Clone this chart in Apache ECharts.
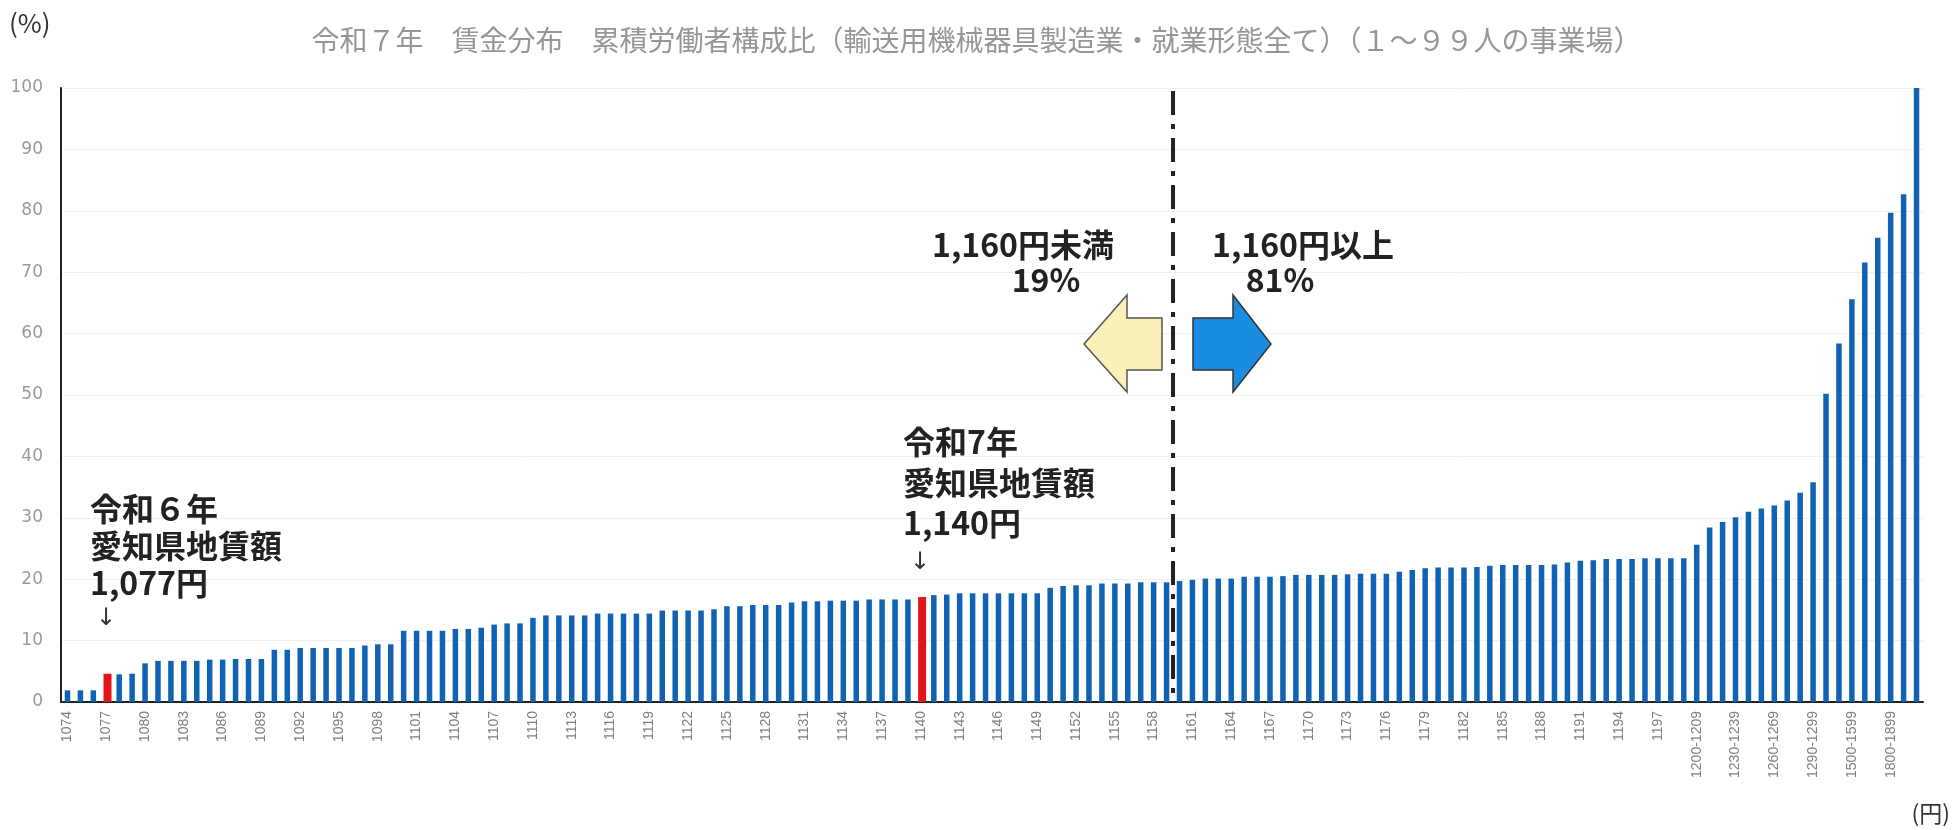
<!DOCTYPE html>
<html>
<head>
<meta charset="utf-8">
<script src="https://cdn.jsdelivr.net/npm/echarts@6/dist/echarts.min.js"></script>
<style>
html,body{margin:0;padding:0;background:#fff;}
#main{width:1953px;height:830px;}
</style>
</head>
<body>
<div id="main"></div>
<script>
// ---- data ----
const titleText = '令和７年　賃金分布　累積労働者構成比（輸送用機械器具製造業・就業形態全て）（１～９９人の事業場）';
const singleYen = [
  '1074','1075','1076','1077','1078','1079','1080','1081','1082','1083',
  '1084','1085','1086','1087','1088','1089','1090','1091','1092','1093',
  '1094','1095','1096','1097','1098','1099','1100','1101','1102','1103',
  '1104','1105','1106','1107','1108','1109','1110','1111','1112','1113',
  '1114','1115','1116','1117','1118','1119','1120','1121','1122','1123',
  '1124','1125','1126','1127','1128','1129','1130','1131','1132','1133',
  '1134','1135','1136','1137','1138','1139','1140','1141','1142','1143',
  '1144','1145','1146','1147','1148','1149','1150','1151','1152','1153',
  '1154','1155','1156','1157','1158','1159','1160','1161','1162','1163',
  '1164','1165','1166','1167','1168','1169','1170','1171','1172','1173',
  '1174','1175','1176','1177','1178','1179','1180','1181','1182','1183',
  '1184','1185','1186','1187','1188','1189','1190','1191','1192','1193',
  '1194','1195','1196','1197','1198','1199'
];
const rangeYen = [
  '1200-1209','1210-1219','1220-1229','1230-1239','1240-1249','1250-1259',
  '1260-1269','1270-1279','1280-1289','1290-1299','1300-1399','1400-1499',
  '1500-1599','1600-1699','1700-1799','1800-1899','1900-1999','2000-'
];
const singleValues = [
  1.9, 1.9, 1.9, 4.6, 4.5, 4.6, 6.3, 6.7, 6.7, 6.7,
  6.7, 6.9, 6.9, 7.0, 7.0, 7.0, 8.5, 8.5, 8.8, 8.8,
  8.8, 8.8, 8.8, 9.2, 9.4, 9.4, 11.6, 11.6, 11.6, 11.6,
  11.9, 11.9, 12.1, 12.6, 12.8, 12.8, 13.7, 14.1, 14.1, 14.1,
  14.1, 14.4, 14.4, 14.4, 14.4, 14.4, 14.9, 14.9, 14.9, 14.9,
  15.1, 15.6, 15.6, 15.8, 15.8, 15.8, 16.2, 16.4, 16.4, 16.5,
  16.5, 16.5, 16.7, 16.7, 16.7, 16.7, 17.1, 17.4, 17.5, 17.7,
  17.7, 17.7, 17.7, 17.7, 17.7, 17.7, 18.6, 18.9, 19.0, 19.0,
  19.3, 19.3, 19.3, 19.5, 19.5, 19.5, 19.7, 19.9, 20.1, 20.1,
  20.1, 20.4, 20.4, 20.4, 20.5, 20.7, 20.7, 20.7, 20.7, 20.8,
  20.9, 20.9, 20.9, 21.2, 21.5, 21.8, 21.9, 21.9, 21.9, 22.0,
  22.2, 22.3, 22.3, 22.3, 22.3, 22.4, 22.7, 23.0, 23.1, 23.3,
  23.3, 23.3, 23.4, 23.4, 23.4, 23.4
];
const rangeValues = [
  25.6, 28.4, 29.3, 30.1, 31.0, 31.5,
  32.0, 32.8, 34.1, 35.8, 50.2, 58.4,
  65.6, 71.6, 75.6, 79.7, 82.7, 100
];
const highlighted = ['1077', '1140'];
const thresholdBefore = '1159';
const thresholdAfter = '1160';
const yTicks = { min: 0, max: 100, interval: 10 };

const categories = singleYen.concat(rangeYen);
const values = singleValues.concat(rangeValues);

const BLUE = '#0f62b4';
const RED = '#e3141d';

const isHi = (i) => highlighted.indexOf(categories[i]) >= 0;
const blueData = values.map((v, i) => isHi(i) ? '-' : v);
const redData = values.map((v, i) => isHi(i) ? v : '-');

const chart = echarts.init(document.getElementById('main'));
const option = {
  animation: false,
  backgroundColor: '#ffffff',
  title: {
    text: titleText,
    left: 'center',
    top: 21,
    textStyle: { fontSize: 28, fontWeight: 'normal', color: '#969696', fontFamily: '"Noto Sans CJK JP", sans-serif' }
  },
  grid: { left: 61, right: 30, top: 88, bottom: 128 },
  xAxis: {
    type: 'category',
    data: categories,
    axisLine: { lineStyle: { color: '#222', width: 2 } },
    axisTick: { show: false },
    axisLabel: { interval: 2, rotate: 90, color: '#808080', fontSize: 14, margin: 9, fontFamily: '"Liberation Sans", sans-serif' }
  },
  yAxis: {
    type: 'value',
    min: yTicks.min, max: yTicks.max, interval: yTicks.interval,
    axisLine: { show: true, lineStyle: { color: '#222', width: 2 } },
    axisTick: { show: false },
    axisLabel: { color: '#9a9a9a', fontSize: 17, margin: 18, fontFamily: '"DejaVu Sans", sans-serif' },
    splitLine: { lineStyle: { color: '#efefef', width: 1 } }
  },
  series: [
    { type: 'bar', name: 'highlight', data: redData, barWidth: 8, barGap: '-100%', itemStyle: { color: RED } },
    { type: 'bar', name: 'ratio', data: blueData, barWidth: 5.5, barGap: '-100%', itemStyle: { color: BLUE } }
  ]
};
chart.setOption(option);

// ---- annotations ----
const xa = chart.convertToPixel({ xAxisIndex: 0 }, thresholdBefore);
const xb = chart.convertToPixel({ xAxisIndex: 0 }, thresholdAfter);
const xMid = (xa + xb) / 2;
const yBottom = chart.convertToPixel({ yAxisIndex: 0 }, 0);
const yTop = chart.convertToPixel({ yAxisIndex: 0 }, 99.5);

const boldFont = 'bold 32px "Noto Sans CJK JP", sans-serif';
function txt(text, x, y, align, font, fill) {
  return { type: 'text', silent: true, style: { text: text, x: x, y: y, textAlign: align || 'left', textVerticalAlign: 'middle', font: font || boldFont, fill: fill || '#222' } };
}

const graphics = [
  // dash-dot threshold line
  { type: 'line', silent: true, shape: { x1: xMid, y1: yTop, x2: xMid, y2: yBottom },
    style: { stroke: '#222', lineWidth: 4, lineDash: [24, 9, 5, 9] } },
  // yellow left arrow
  { type: 'polygon', silent: true,
    shape: { points: [[1084, 344], [1127, 295], [1127, 318], [1162, 318], [1162, 370], [1127, 370], [1127, 392]] },
    style: { fill: '#faf0b8', stroke: '#555', lineWidth: 1.5 } },
  // blue right arrow
  { type: 'polygon', silent: true,
    shape: { points: [[1193, 318], [1233, 318], [1233, 295], [1271, 344], [1233, 392], [1233, 370], [1193, 370]] },
    style: { fill: '#1a8de0', stroke: '#333', lineWidth: 1.5 } },
  // axis units
  txt('(%)', 9, 23, 'left', '26px "Noto Sans CJK JP", sans-serif', '#333'),
  txt('(円)', 1950, 813, 'right', '23px "Noto Sans CJK JP", sans-serif', '#333'),
  // 令和6年 annotation
  txt('令和６年', 90, 509),
  txt('愛知県地賃額', 90, 546),
  txt('1,077円', 90, 583),
  txt('↓', 106, 619, 'center', '24px "DejaVu Sans", sans-serif', '#333'),
  // 令和7年 annotation
  txt('令和7年', 903, 442),
  txt('愛知県地賃額', 903, 483),
  txt('1,140円', 903, 523),
  txt('↓', 920, 563, 'center', '24px "DejaVu Sans", sans-serif', '#333'),
  // threshold labels
  txt('1,160円未満', 1023, 245, 'center'),
  txt('19%', 1046, 280, 'center'),
  txt('1,160円以上', 1303, 245, 'center'),
  txt('81%', 1280, 280, 'center')
];
chart.setOption({ graphic: graphics });
</script>
</body>
</html>
